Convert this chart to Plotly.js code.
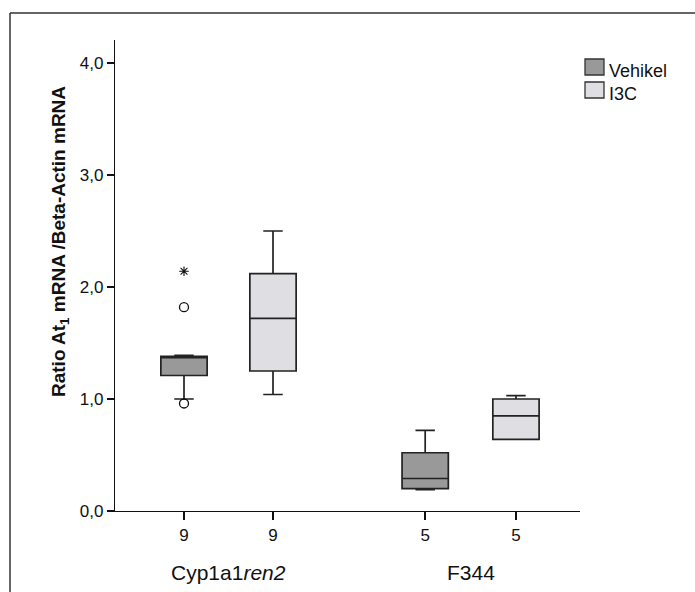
<!DOCTYPE html>
<html><head><meta charset="utf-8">
<script src="https://cdn.plot.ly/plotly-3.0.1.min.js"></script>
<style>html,body{margin:0;padding:0;background:#fff}</style>
</head><body><div id="chart" style="width:695px;height:592px"></div>
<script>
// Data
const groups = ["Cyp1a1<i>ren2</i>", "F344"];
const series = ["Vehikel", "I3C"];
const positions = [0, 1, 2.71, 3.73];          // box positions (x axis units)
const nLabels = ["9", "9", "5", "5"];
const q1      = [1.21, 1.25, 0.20, 0.64];
const median  = [1.37, 1.72, 0.29, 0.85];
const q3      = [1.38, 2.12, 0.52, 1.00];
const lowerF  = [1.00, 1.04, 0.19, 0.64];
const upperF  = [1.39, 2.50, 0.72, 1.03];
const circleOutliersX = [0, 0];
const circleOutliersY = [1.82, 0.96];
const starOutliersX = [0];
const starOutliersY = [2.14];
const colors = ["#999999", "#dfdfe3"];

const FONT = "Liberation Sans, Arial, sans-serif";
const traces = [];
for (let i = 0; i < 4; i++) {
  const s = i % 2;
  traces.push({
    type: "box", x: [positions[i]],
    q1: [q1[i]], median: [median[i]], q3: [q3[i]],
    lowerfence: [lowerF[i]], upperfence: [upperF[i]],
    width: 0.52, whiskerwidth: 0.42,
    fillcolor: colors[s], line: {color: "#222", width: 1.7},
    name: series[s], showlegend: false, hoverinfo: "skip"
  });
}
traces.push({type: "scatter", mode: "markers", x: circleOutliersX, y: circleOutliersY,
  marker: {symbol: "circle-open", size: 9, color: "#111", line: {width: 1.3}}, showlegend: false});
traces.push({type: "scatter", mode: "markers", x: starOutliersX, y: starOutliersY,
  marker: {symbol: "asterisk-open", size: 8, color: "#111", line: {width: 1.1}}, showlegend: false});

const L = 115, T = 40, W = 465, H = 471;
const px = v => (v - L) / W;
const py = v => (T + H - v) / H;

const shapes = [
  {type: "line", xref: "paper", yref: "paper", x0: px(10), x1: px(700), y0: py(13), y1: py(13), line: {color: "#333", width: 1.5}},
  {type: "line", xref: "paper", yref: "paper", x0: px(10), x1: px(10), y0: py(13), y1: py(600), line: {color: "#333", width: 1.5}},
];
const annotations = [
  {xref: "paper", yref: "paper", x: px(60), y: py(242), xanchor: "center", yanchor: "middle", textangle: -90, showarrow: false,
   text: "<b>Ratio At<sub>1</sub> mRNA /Beta-Actin mRNA</b>",
   font: {family: FONT, size: 19, color: "#111"}},
  {xref: "x", yref: "paper", x: (positions[0] + positions[1]) / 2, y: py(572), xanchor: "center", yanchor: "middle", showarrow: false,
   text: groups[0], font: {family: FONT, size: 21, color: "#111"}},
  {xref: "x", yref: "paper", x: (positions[2] + positions[3]) / 2, y: py(572), xanchor: "center", yanchor: "middle", showarrow: false,
   text: groups[1], font: {family: FONT, size: 21, color: "#111"}},
];
const legBox = [67, 90];
const legTxt = [71, 94];
for (let s = 0; s < 2; s++) {
  shapes.push({type: "rect", xref: "paper", yref: "paper", x0: px(585), x1: px(604),
    y0: py(legBox[s] - 8), y1: py(legBox[s] + 8), fillcolor: colors[s], line: {color: "#333", width: 1.3}});
  annotations.push({xref: "paper", yref: "paper", x: px(607), y: py(legTxt[s]), xanchor: "left", yanchor: "middle", showarrow: false,
    text: series[s], font: {family: FONT, size: 18, color: "#111"}});
}

const layout = {
  width: 695, height: 592,
  margin: {l: L, r: 695 - L - W, t: T, b: 592 - T - H},
  paper_bgcolor: "#fff", plot_bgcolor: "#fff",
  separators: ", ",
  showlegend: false,
  xaxis: {range: [(L - 184) / 89, (L - 184) / 89 + W / 89], tickvals: positions, ticktext: nLabels,
    showline: true, linecolor: "#111", linewidth: 1.2, ticks: "outside", ticklen: 8, tickcolor: "#111", tickwidth: 1.5,
    showgrid: false, zeroline: false, tickfont: {family: FONT, size: 17, color: "#111"}},
  yaxis: {range: [0, H / 112], tickvals: [0, 1, 2, 3, 4], tickformat: ".1f",
    showline: true, linecolor: "#111", linewidth: 1.2, ticks: "outside", ticklen: 7, tickcolor: "#111", tickwidth: 1.2,
    showgrid: false, zeroline: false, tickfont: {family: FONT, size: 17, color: "#111"}},
  shapes: shapes, annotations: annotations
};
Plotly.newPlot("chart", traces, layout, {staticPlot: true});
</script></body></html>
